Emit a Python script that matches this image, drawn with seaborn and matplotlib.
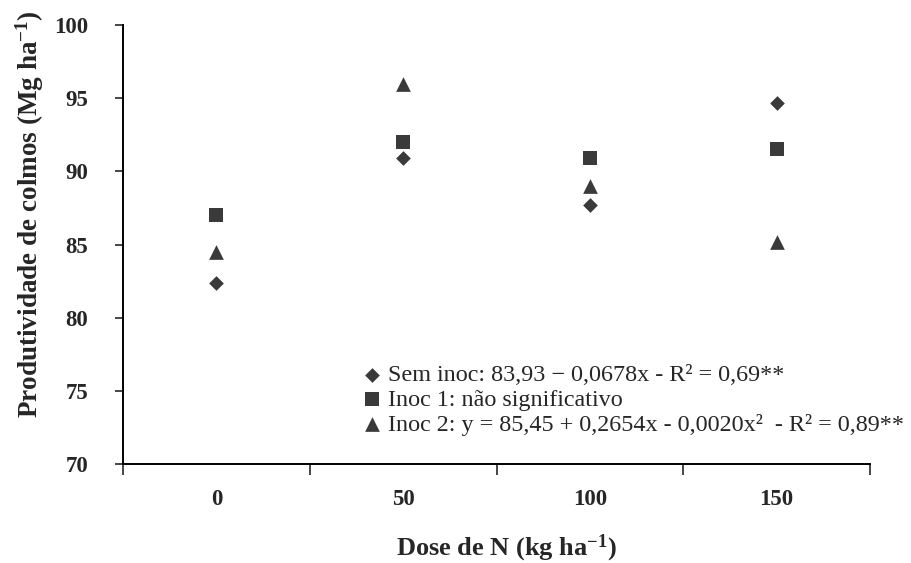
import matplotlib
matplotlib.use("Agg")
import matplotlib.pyplot as plt
import numpy as np
import pandas as pd
import seaborn as sns

#%% Data
doses = ['0', '50', '100', '150']
sem_inoc = [82.4, 90.9, 87.7, 94.7]
inoc_1 = [87.0, 92.0, 90.9, 91.5]
inoc_2 = [84.5, 96.0, 89.0, 85.2]
y_ticks = [70, 75, 80, 85, 90, 95, 100]

labels = {
    'sem': 'Sem inoc: 83,93 \u2212 0,0678x - R\u00b2 = 0,69**',
    'inoc1': 'Inoc 1: n\u00e3o significativo',
    'inoc2': 'Inoc 2: y = 85,45 + 0,2654x - 0,0020x\u00b2  - R\u00b2 = 0,89**',
}

data = pd.DataFrame({'dose': doses * 3,
                     'prod': sem_inoc + inoc_1 + inoc_2,
                     'trat': ['sem'] * 4 + ['inoc1'] * 4 + ['inoc2'] * 4})

#%% Figure
sns.set_style("white")
plt.rcParams['font.family'] = ['Liberation Serif', 'DejaVu Serif']
plt.rcParams['mathtext.fontset'] = 'custom'
plt.rcParams['mathtext.rm'] = 'Liberation Serif'
plt.rcParams['mathtext.bf'] = 'Liberation Serif:bold'

fig = plt.figure(figsize=(9.11, 5.63), dpi=100)
ax = fig.add_axes([123 / 911, 1 - 464 / 563, 747 / 911, 439 / 563])

marker_col = '#3a3a3a'
styles = {'sem': ('D', 56), 'inoc1': ('s', 92), 'inoc2': ('^', 112)}
for trat, (mk, size) in styles.items():
    sub = data[data['trat'] == trat]
    sns.scatterplot(data=sub, x='dose', y='prod', marker=mk, s=size,
                    color=marker_col, linewidth=0, label=labels[trat], ax=ax)

ax.set_xlim(-0.5, 3.5)
ax.set_ylim(70, 100)
ax.set_yticks(y_ticks)

# Category axis: ticks between categories, labels centred on them
ax.set_xticks(np.arange(-0.5, 4, 1))
ax.set_xticklabels([])
ax.set_xticks(range(len(doses)), minor=True)
ax.set_xticklabels(doses, minor=True)
ax.tick_params(axis='x', which='major', length=8, width=1.2, direction='out', bottom=True)
ax.tick_params(axis='x', which='minor', length=0, pad=18, labelsize=16.5)
ax.tick_params(axis='y', length=6, width=1.2, direction='out', left=True, pad=19, labelsize=16.5)
for lab in ax.get_xticklabels(minor=True) + ax.get_yticklabels():
    lab.set_fontweight('bold')

for side in ['top', 'right']:
    ax.spines[side].set_visible(False)
for side in ['left', 'bottom']:
    ax.spines[side].set_linewidth(1.4)
    ax.spines[side].set_color('black')

ax.set_xlabel(r'Dose de N (kg ha$\mathbf{^{-1}}$)', fontsize=19, fontweight='bold', va='top')
ax.xaxis.set_label_coords(0.513, -0.156)
ax.set_ylabel(r'Produtividade de colmos (Mg ha$\mathbf{^{-1}}$)', fontsize=19.5, fontweight='bold')
ax.yaxis.set_label_coords(-0.103, 0.57)

ax.legend(loc='upper left', bbox_to_anchor=((363 - 123) / 747, (464 - 364) / 439),
          frameon=False, fontsize=17.4, handlelength=0.75, handletextpad=0.28,
          borderpad=0, borderaxespad=0, labelspacing=0.12, markerscale=1.0)

fig.savefig('out.png', dpi=100)
